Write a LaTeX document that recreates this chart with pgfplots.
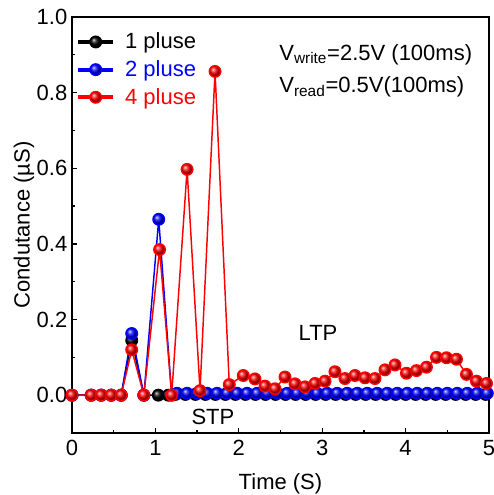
\documentclass[border=0pt]{standalone}
\usepackage{fontspec}
\setmainfont{Liberation Sans}
\usepackage{pgfplots}
\pgfplotsset{compat=1.18}
\def\ff{\fontsize{16.5}{19.8}\selectfont}
\begin{document}
\begin{tikzpicture}
\begin{axis}[
 scale only axis, width=312.75pt, height=312pt,
 xmin=0,xmax=5,ymin=-0.1,ymax=1.0,
 xtick={0,1,2,3,4,5}, minor x tick num=1,
 ytick={0,0.2,0.4,0.6,0.8,1.0}, minor y tick num=1,
 yticklabel style={/pgf/number format/.cd, fixed, fixed zerofill, precision=1},
 xticklabel style={yshift=-2pt},
 tick align=inside, tick pos=left,
 major tick length=4pt, minor tick length=2.5pt,
 axis line style={line width=1pt}, every tick/.style={black, line width=1pt},
 /pgf/number format/assume math mode=true,
 tick label style={font=\ff},
 label style={font=\ff},
 xlabel={Time (S)}, ylabel={Condutance (µS)},
 ylabel style={yshift=-5pt},
 xlabel style={yshift=-6pt},
 legend style={draw=none, fill=none, at={(0.0,0.975)}, anchor=north west, font=\ff, row sep=3.3pt, nodes={inner xsep=7.5pt}},
 legend cell align=left,
 legend image code/.code={\draw[#1,line width=3pt] (-0.05cm,0cm) -- (0.87cm,0cm); \draw[#1,only marks] plot coordinates {(0.41cm,0cm)};},
 every axis plot/.append style={line width=1.1pt, mark=ball, mark size=4.3pt},
]
\addplot[black, mark options={ball color=black}] coordinates {
(0,0) (0.23,0) (0.35,0) (0.47,0) (0.59,0) (0.716,0.145) (0.862,0) (1.035,0) (1.155,0)
(1.24,0.002) (1.36,0.002) (1.48,0.002) (1.60,0.002) (1.72,0.002) (1.84,0.002) (1.96,0.002) (2.08,0.002) (2.20,0.002) (2.32,0.002) (2.44,0.002) (2.56,0.002) (2.68,0.002) (2.80,0.002) (2.92,0.002) (3.04,0.002) (3.16,0.002) (3.28,0.002) (3.40,0.002) (3.52,0.002) (3.64,0.002) (3.76,0.002) (3.88,0.002) (4.00,0.002) (4.12,0.002) (4.24,0.002) (4.36,0.002) (4.48,0.002) (4.60,0.002) (4.72,0.002) (4.84,0.002) (4.96,0.002)
};
\addlegendentry{1 pluse}
\addplot[blue, mark options={ball color=blue}] coordinates {
(0,0) (0.23,0) (0.35,0) (0.47,0) (0.59,0) (0.716,0.163) (0.862,0) (1.04,0.465) (1.195,0)
(1.26,0.005) (1.38,0.005) (1.50,0.005) (1.62,0.005) (1.74,0.005) (1.86,0.005) (1.98,0.005) (2.10,0.005) (2.22,0.005) (2.34,0.005) (2.46,0.005) (2.58,0.005) (2.70,0.005) (2.82,0.005) (2.94,0.005) (3.06,0.005) (3.18,0.005) (3.30,0.005) (3.42,0.005) (3.54,0.005) (3.66,0.005) (3.78,0.005) (3.90,0.005) (4.02,0.005) (4.14,0.005) (4.26,0.005) (4.38,0.005) (4.50,0.005) (4.62,0.005) (4.74,0.005) (4.86,0.005) (4.98,0.005)
};
\addlegendentry{\textcolor{blue}{2 pluse}}
\addplot[red, mark options={ball color=red}] coordinates {
(0,0) (0.23,0) (0.35,0) (0.47,0) (0.59,0) (0.716,0.12) (0.862,0) (1.05,0.385) (1.195,0) (1.38,0.597) (1.535,0.012) (1.715,0.856) (1.886,0.028) (2.054,0.052) (2.194,0.043) (2.314,0.024) (2.434,0.017) (2.554,0.048) (2.674,0.030) (2.794,0.022) (2.914,0.031) (3.034,0.037) (3.153,0.062) (3.273,0.044) (3.393,0.052) (3.513,0.046) (3.633,0.044) (3.753,0.067) (3.873,0.080) (4.01,0.058) (4.13,0.065) (4.25,0.074) (4.37,0.10) (4.49,0.099) (4.61,0.095) (4.73,0.055) (4.85,0.037) (4.97,0.031)
};
\addlegendentry{\textcolor{red}{4 pluse}}
\node[anchor=west, font=\ff] at (axis cs:2.43,0.9) {V\textsubscript{write}=2.5V (100ms)};
\node[anchor=west, font=\ff] at (axis cs:2.43,0.815) {V\textsubscript{read}=0.5V(100ms)};
\node[font=\ff] at (axis cs:2.95,0.165) {LTP};
\node[font=\ff] at (axis cs:1.69,-0.058) {STP};
\end{axis}
\pgfresetboundingbox
\path ([xshift=-54pt,yshift=-46.5pt]current axis.south west) rectangle ([xshift=3.75pt,yshift=12.75pt]current axis.north east);
\end{tikzpicture}
\end{document}
